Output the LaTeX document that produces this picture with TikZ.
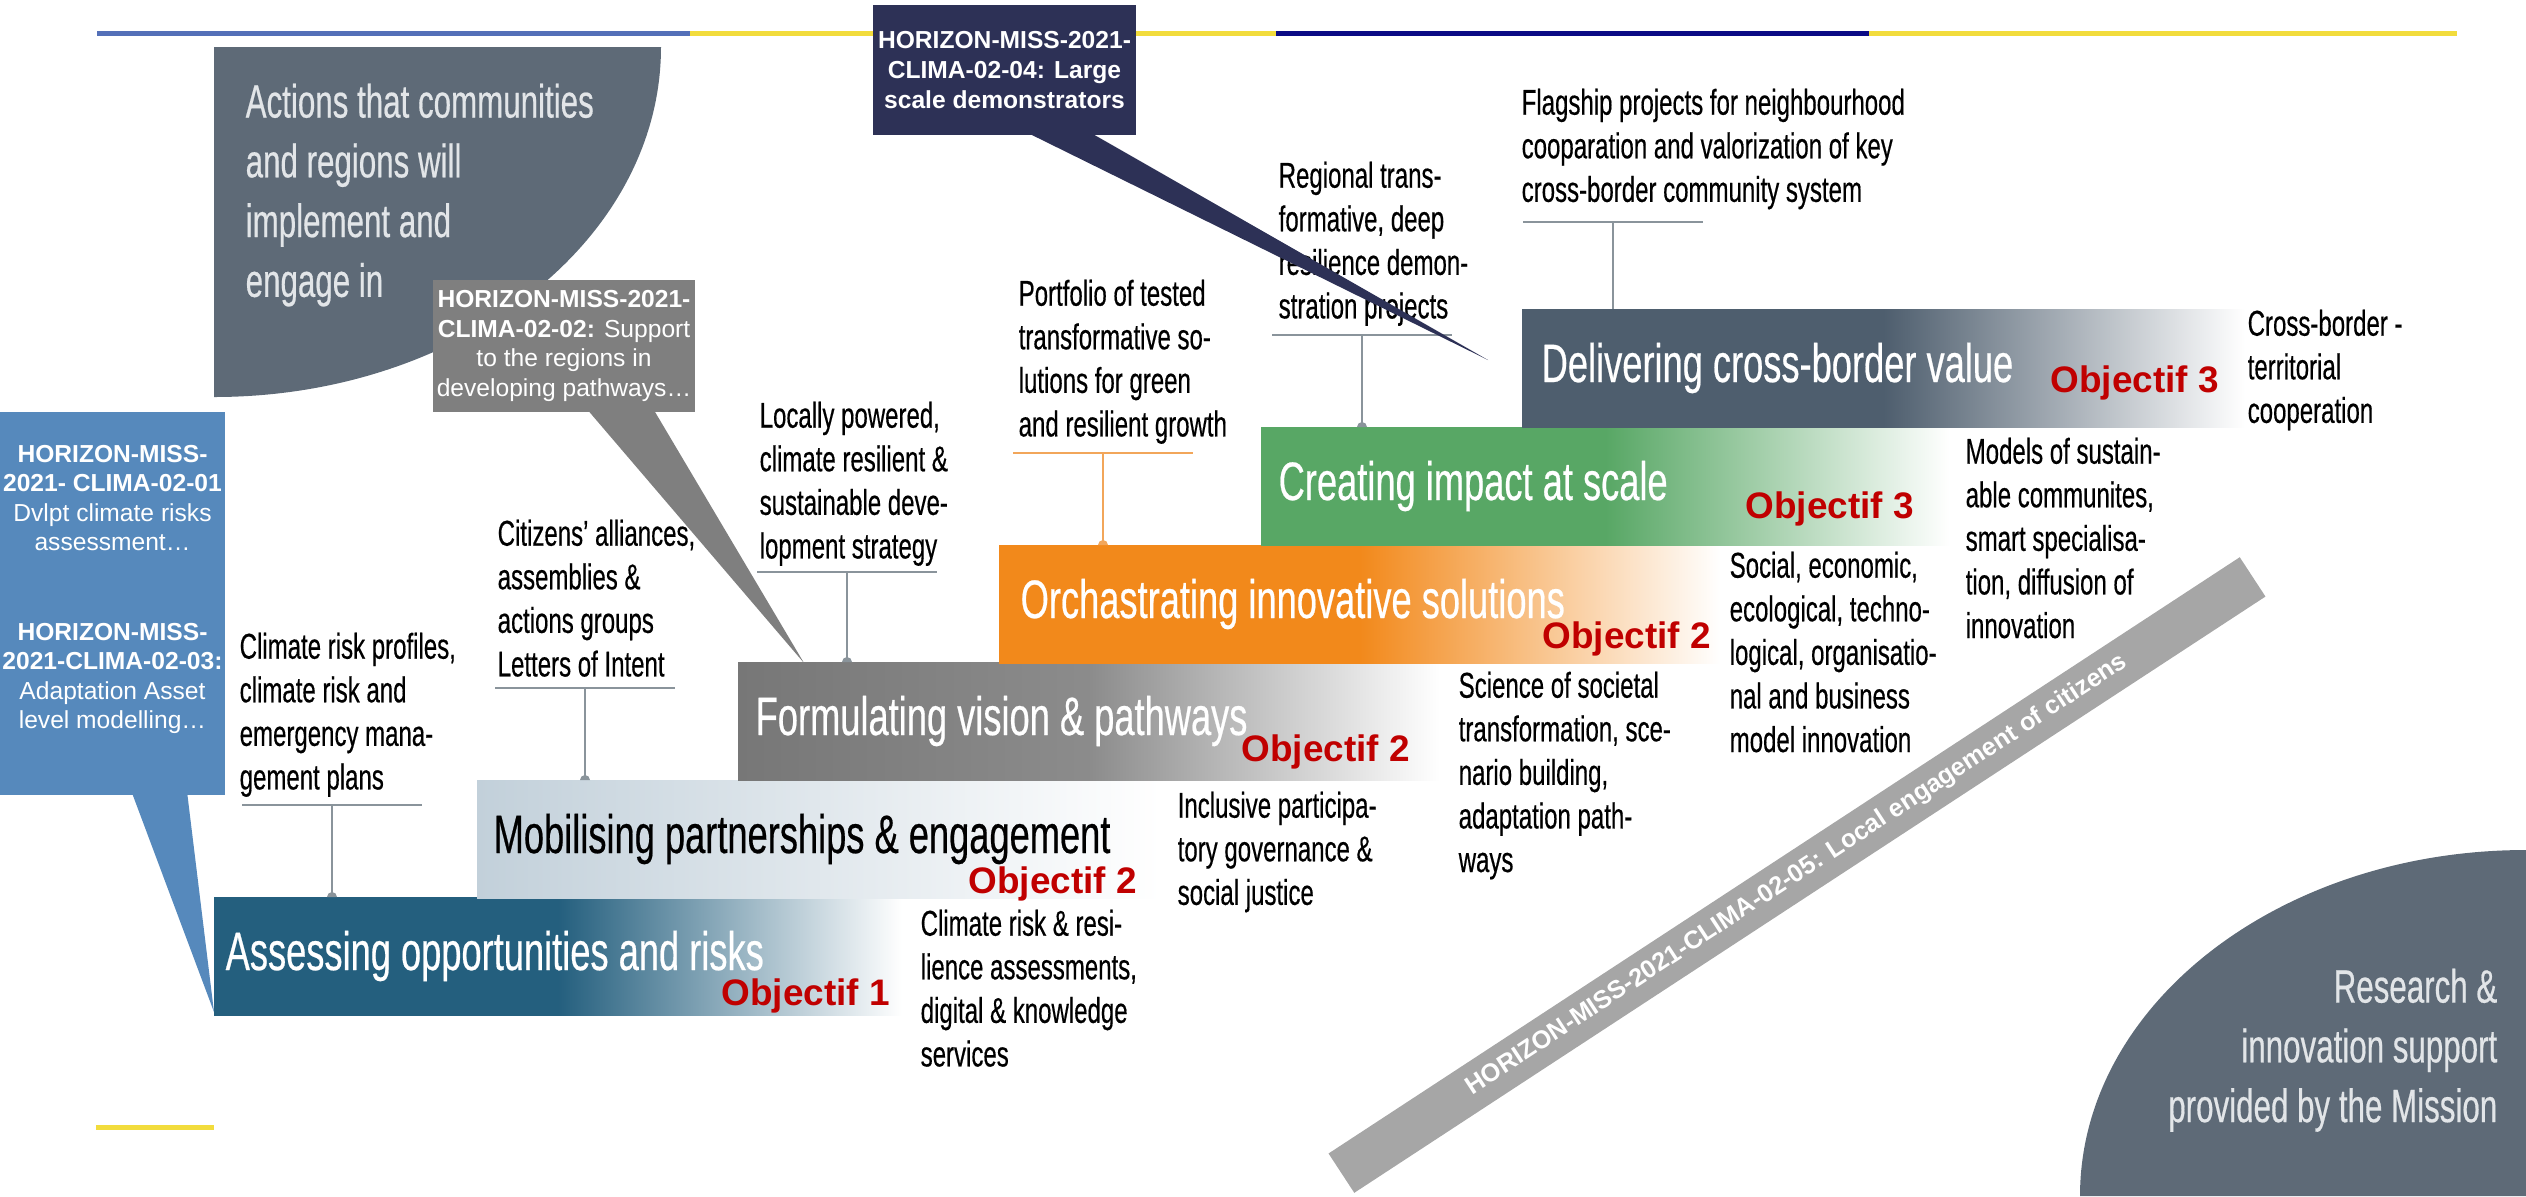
\documentclass[tikz,border=0pt]{standalone}
\usepackage{fontspec}
\setmainfont{Liberation Sans}
\newfontfamily\narrowfont[FakeStretch=0.67, FakeBold=0.4]{Liberation Sans}
\usepackage{xcolor}
\usetikzlibrary{positioning}

\definecolor{lineblue}{HTML}{5470B8}
\definecolor{lineyellow}{HTML}{F2DC3C}
\definecolor{linenavy}{HTML}{0B0B85}
\definecolor{panelgray}{HTML}{5E6A77}
\definecolor{paneltext}{HTML}{E2E5E8}
\definecolor{calloutblue}{HTML}{5689BC}
\definecolor{calloutgray}{HTML}{7F7F7F}
\definecolor{calloutnavy}{HTML}{2D3156}
\definecolor{assesscol}{HTML}{245F7E}
\definecolor{mobilcol}{HTML}{C2D0DA}
\definecolor{formcol}{HTML}{777777}
\definecolor{orchcol}{HTML}{F2891B}
\definecolor{creatcol}{HTML}{58A765}
\definecolor{delivcol}{HTML}{4E5E6E}
\definecolor{objred}{HTML}{C00000}
\definecolor{bandgray}{HTML}{A6A6A6}
\definecolor{rulegray}{HTML}{8A949B}
\definecolor{ruleorange}{HTML}{F2A65A}

\tikzset{
  stepbar/.style={anchor=north west, minimum height=11.8mm, inner sep=0pt, outer sep=0pt},
  steptitle/.style={font=\narrowfont\fontsize{15.4}{18}\selectfont, text=white, inner sep=0pt},
  objectif/.style={font=\bfseries\fontsize{10.5}{12}\selectfont, text=objred, inner sep=0pt, anchor=base west},
  note/.style={font=\narrowfont\fontsize{10.2}{12.4}\selectfont, align=left, inner sep=0pt, anchor=north west},
  paneltxt/.style={font=\narrowfont\fontsize{13.3}{17}\selectfont, text=paneltext, inner sep=0pt},
  callout/.style={font=\fontsize{7}{8.4}\selectfont, text=white, align=center, inner sep=0pt},
  rule/.style={draw=rulegray, line width=0.8pt},
  leader/.style={draw=rulegray, line width=0.5pt},
  band/.style={fill=bandgray, text=white, font=\bfseries\fontsize{7.2}{8}\selectfont, inner sep=0pt},
}

\begin{document}
\begin{tikzpicture}[x=0.1mm, y=-0.1mm]
  \useasboundingbox (0,0) rectangle (2526,1196);

  % top rule and small bottom rule
  \draw[lineblue, line width=0.5mm] (97,33) -- (690,33);
  \draw[lineyellow, line width=0.5mm] (690,33) -- (1276,33);
  \draw[linenavy, line width=0.5mm] (1276,33) -- (1869,33);
  \draw[lineyellow, line width=0.5mm] (1869,33) -- (2457,33);
  \draw[lineyellow, line width=0.5mm] (96,1127) -- (214,1127);

  % quarter panels
  \fill[panelgray] (214,47) -- (661,47) arc[start angle=0, end angle=90, x radius=447, y radius=350] -- cycle;
  \fill[panelgray] (2080,1196) arc[start angle=180, end angle=270, x radius=446, y radius=346] -- (2526,850) -- (2526,1196) -- cycle;
  \node[paneltxt, align=left, anchor=north west] (actions) at (245,83) {Actions that communities\\ and regions will\\ implement and\\ engage in};
  \node[paneltxt, align=right, anchor=north east] (research) at (2498,968) {Research \&\\ innovation support\\ provided by the Mission};

  % steps
  \node[stepbar, minimum width=68.8mm, left color=assesscol, right color=white, middle color=assesscol] (assess) at (214,897) {};
  \node[stepbar, minimum width=68.4mm, left color=mobilcol, right color=white] (mobil) at (477,780) {};
  \node[stepbar, minimum width=70.2mm, left color=formcol, right color=white, middle color=formcol!85!white] (formul) at (738,662) {};
  \node[stepbar, minimum width=72.1mm, left color=orchcol, right color=white, middle color=orchcol] (orch) at (999,545) {};
  \node[stepbar, minimum width=68.9mm, left color=creatcol, right color=white, middle color=creatcol] (creat) at (1261,427) {};
  \node[stepbar, minimum width=72.3mm, left color=delivcol, right color=white, middle color=delivcol] (deliv) at (1522,309) {};

  \node[steptitle, right=1.1mm of assess.west] (assesstitle) {Assessing opportunities and risks};
  \node[steptitle, text=black, right=1.6mm of mobil.west] (mobiltitle) {Mobilising partnerships \& engagement};
  \node[steptitle, right=1.7mm of formul.west] (formultitle) {Formulating vision \& pathways};
  \node[steptitle, right=2.1mm of orch.west] (orchtitle) {Orchastrating innovative solutions};
  \node[steptitle, right=1.7mm of creat.west] (creattitle) {Creating impact at scale};
  \node[steptitle, right=1.9mm of deliv.west] (delivtitle) {Delivering cross-border value};

  \node[objectif] (obj1) at (721,1005) {Objectif 1};
  \node[objectif] (obj2a) at (968,893) {Objectif 2};
  \node[objectif] (obj2b) at (1241,761) {Objectif 2};
  \node[objectif] (obj2c) at (1542,648) {Objectif 2};
  \node[objectif] (obj3a) at (1745,518) {Objectif 3};
  \node[objectif] (obj3b) at (2050,392) {Objectif 3};

  % notes
  \node[note] (riskprofiles) at (239,632) {Climate risk profiles,\\ climate risk and\\ emergency mana-\\ gement plans};
  \node[note] (citizens) at (497,519) {Citizens’ alliances,\\ assemblies \&\\ actions groups\\ Letters of Intent};
  \node[note] (locally) at (759,401) {Locally powered,\\ climate resilient \&\\ sustainable deve-\\ lopment strategy};
  \node[note] (portfolio) at (1018,279) {Portfolio of tested\\ transformative so-\\ lutions for green\\ and resilient growth};
  \node[note] (regional) at (1278,161) {Regional trans-\\ formative, deep\\ resilience demon-\\ stration projects};
  \node[note] (flagship) at (1521,88) {Flagship projects for neighbourhood\\ cooparation and valorization of key\\ cross-border community system};
  \node[note] (crossborder) at (2247,309) {Cross-border -\\ territorial\\ cooperation};
  \node[note] (models) at (1965,437) {Models of sustain-\\ able communites,\\ smart specialisa-\\ tion, diffusion of\\ innovation};
  \node[note] (social) at (1729,551) {Social, economic,\\ ecological, techno-\\ logical, organisatio-\\ nal and business\\ model innovation};
  \node[note] (science) at (1458,671) {Science of societal\\ transformation, sce-\\ nario building,\\ adaptation path-\\ ways};
  \node[note] (inclusive) at (1177,791) {Inclusive participa-\\ tory governance \&\\ social justice};
  \node[note] (riskservices) at (920,909) {Climate risk \& resi-\\ lience assessments,\\ digital \& knowledge\\ services};

  % leaders from notes down to steps
  \coordinate (riskrule) at (332,805);
  \coordinate (riskfoot) at (riskrule |- assess.north);
  \draw[rule] ([xshift=-9mm]riskrule) -- ([xshift=9mm]riskrule);
  \draw[leader] (riskrule) -- (riskfoot);
  \fill[rulegray] ([xshift=-0.5mm]riskfoot) arc[start angle=180, end angle=0, radius=0.5mm];

  \coordinate (citizenrule) at (585,688);
  \coordinate (citizenfoot) at (citizenrule |- mobil.north);
  \draw[rule] ([xshift=-9mm]citizenrule) -- ([xshift=9mm]citizenrule);
  \draw[leader] (citizenrule) -- (citizenfoot);
  \fill[rulegray] ([xshift=-0.5mm]citizenfoot) arc[start angle=180, end angle=0, radius=0.5mm];

  \coordinate (locallyrule) at (847,572);
  \coordinate (locallyfoot) at (locallyrule |- formul.north);
  \draw[rule] ([xshift=-9mm]locallyrule) -- ([xshift=9mm]locallyrule);
  \draw[leader] (locallyrule) -- (locallyfoot);
  \fill[rulegray] ([xshift=-0.5mm]locallyfoot) arc[start angle=180, end angle=0, radius=0.5mm];

  \coordinate (portfoliorule) at (1103,453);
  \coordinate (portfoliofoot) at (portfoliorule |- orch.north);
  \draw[rule, draw=ruleorange] ([xshift=-9mm]portfoliorule) -- ([xshift=9mm]portfoliorule);
  \draw[leader, draw=ruleorange] (portfoliorule) -- (portfoliofoot);
  \fill[ruleorange] ([xshift=-0.5mm]portfoliofoot) arc[start angle=180, end angle=0, radius=0.5mm];

  \coordinate (regionalrule) at (1362,335);
  \coordinate (regionalfoot) at (regionalrule |- creat.north);
  \draw[rule] ([xshift=-9mm]regionalrule) -- ([xshift=9mm]regionalrule);
  \draw[leader] (regionalrule) -- (regionalfoot);
  \fill[rulegray] ([xshift=-0.5mm]regionalfoot) arc[start angle=180, end angle=0, radius=0.5mm];

  \coordinate (flagshiprule) at (1613,222);
  \coordinate (flagshipfoot) at (flagshiprule |- deliv.north);
  \draw[rule] ([xshift=-9mm]flagshiprule) -- ([xshift=9mm]flagshiprule);
  \draw[leader] (flagshiprule) -- (flagshipfoot);

  % local engagement band
  \node[band, rotate=33.2, minimum width=108.9mm, minimum height=4.7mm] (localband) at (1797,875) {HORIZON-MISS-2021-CLIMA-02-05: Local engagement of citizens};

  % callouts
  \node[fill=calloutblue, minimum width=22.5mm, minimum height=38.3mm, inner sep=0pt] (bluebox) at (112.5,603.5) {};
  \coordinate (bluetip) at (214,1012);
  \fill[calloutblue] ([xshift=13.3mm, yshift=0.2mm]bluebox.south west) -- (bluetip) -- ([xshift=18.8mm, yshift=0.2mm]bluebox.south west) -- cycle;
  \node[callout] (bluetext) at ([yshift=1.4mm]bluebox.center) {\textbf{HORIZON-MISS-}\\ \textbf{2021- CLIMA-02-01}\\ Dvlpt climate risks\\ assessment…\\[17pt] \textbf{HORIZON-MISS-}\\ \textbf{2021-CLIMA-02-03:}\\ Adaptation Asset\\ level modelling…};

  \node[callout, fill=calloutgray, minimum width=26.2mm, minimum height=13.2mm] (graybox) at (564,346) {\textbf{HORIZON-MISS-2021-}\\ \textbf{CLIMA-02-02:} Support\\ to the regions in\\ developing pathways…};
  \coordinate (graytip) at (804,663);
  \fill[calloutgray] ([xshift=15.6mm, yshift=0.2mm]graybox.south west) -- (graytip) -- ([xshift=22.2mm, yshift=0.2mm]graybox.south west) -- cycle;

  \node[callout, fill=calloutnavy, minimum width=26.3mm, minimum height=13mm, font=\bfseries\fontsize{7}{8.4}\selectfont] (navybox) at (1004.5,70) {HORIZON-MISS-2021-\\ CLIMA-02-04: Large\\ scale demonstrators};
  \coordinate (navytip) at (1488,360);
  \fill[calloutnavy] ([xshift=15.7mm, yshift=0.2mm]navybox.south west) -- (navytip) -- ([xshift=22mm, yshift=0.2mm]navybox.south west) -- cycle;
\end{tikzpicture}
\end{document}
